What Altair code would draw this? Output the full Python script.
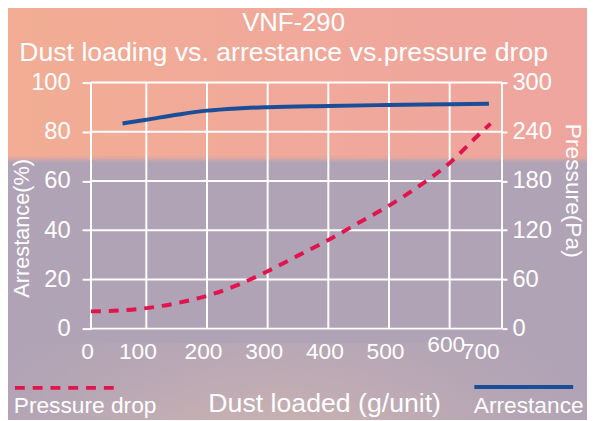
import altair as alt
import pandas as pd

# ---------------- data ----------------
x_pressure = [0, 50, 100, 150, 200, 250, 300, 350, 400, 450, 500, 550, 600, 650, 678]
pressure = [21, 22, 25, 31, 40, 53, 70, 89, 108, 129, 150, 174, 202, 233, 250]
x_arrest = [57, 100, 150, 200, 250, 300, 400, 500, 600, 675]
arrestance = [83.4, 84.9, 86.9, 88.6, 89.5, 90.0, 90.5, 90.9, 91.2, 91.4]
x_ticks = [0, 100, 200, 300, 400, 500, 600, 700]
arrest_ticks = [0, 20, 40, 60, 80, 100]
pressure_ticks = [0, 60, 120, 180, 240, 300]
title_lines = ["VNF-290", "Dust loading vs. arrestance vs.pressure drop"]
legend_labels = ["Pressure drop", "Arrestance"]

# ---------------- style ----------------
W, H = 416, 249
SANS = "Liberation Sans, Arial, sans-serif"
WHITE = "#ffffff"
RED = "#E0154B"
BLUE = "#1B4E98"
PURPLE = "#B1A3B6"

x_scale = alt.Scale(domain=[0, 100, 600, 700], range=[0, 56, 363, 416])
x_axis = alt.Axis(
    values=x_ticks, grid=False, domain=False, ticks=False, zindex=1,
    labelOverlap=False, labelFlush=False, labelBound=False,
    labelColor=WHITE, labelFontSize=23, labelFont=SANS,
    labelPadding={"condition": {"test": "datum.value == 600", "value": 5}, "value": 12},
    labelOffset={"condition": [{"test": "datum.value == 700", "value": -22},
                               {"test": "datum.value == 100", "value": -9}], "value": -4},
    title="Dust loaded (g/unit)", titleFont=SANS, titleFontSize=27, titleFontWeight="normal",
    titleColor=WHITE, titleX=236, titleY=76, titleAlign="center", titleBaseline="middle",
)


def X():
    return alt.X("x:Q", scale=x_scale, axis=x_axis)


left_axis = alt.Axis(
    orient="left", values=arrest_ticks, grid=False, domain=False, zindex=1,
    tickSize=9, tickColor=WHITE, tickWidth=2,
    labelColor=WHITE, labelFont=SANS, labelFontSize=24, labelPadding=12,
    title="Arrestance(%)", titleFont=SANS, titleFontSize=22, titleFontWeight="normal",
    titleColor=WHITE, titleX=-70, titleY=147, titleAngle=270,
    titleAlign="center", titleBaseline="middle",
)
right_axis = alt.Axis(
    orient="right", values=pressure_ticks, grid=False, domain=False, zindex=1,
    tickSize=5, tickColor=WHITE, tickWidth=2,
    labelColor=WHITE, labelFont=SANS, labelFontSize=24, labelPadding=5,
    title="Pressure(Pa)", titleFont=SANS, titleFontSize=23, titleFontWeight="normal",
    titleColor=WHITE, titleX=71, titleY=109, titleAngle=90,
    titleAlign="center", titleBaseline="middle",
)

one = pd.DataFrame({"k": [0]})

# ---------------- background decoration ----------------
salmon = alt.Chart(one).mark_rect(
    fill=alt.LinearGradient(gradient="linear", x1=0, y1=0, x2=1, y2=0, stops=[
        alt.GradientStop(color="#F2AD94", offset=0),
        alt.GradientStop(color="#F0A99A", offset=0.5),
        alt.GradientStop(color="#EEA59F", offset=1)]),
    strokeWidth=0,
).encode(x=alt.value(-92), x2=alt.value(503), y=alt.value(-81), y2=alt.value(75))

blend = alt.Chart(one).mark_rect(
    fill=alt.LinearGradient(gradient="linear", x1=0, y1=0, x2=0, y2=1, stops=[
        alt.GradientStop(color="#EFA99A", offset=0),
        alt.GradientStop(color=PURPLE, offset=1)]),
    strokeWidth=0,
).encode(x=alt.value(-92), x2=alt.value(503), y=alt.value(75), y2=alt.value(81))

glow = alt.Chart(one).mark_rect(
    fill=alt.RadialGradient(gradient="radial", x1=0.47, y1=1.0, r1=0, x2=0.47, y2=1.0, r2=0.75, stops=[
        alt.GradientStop(color="#F0CCA8", offset=0),
        alt.GradientStop(color="rgba(228,194,172,0.75)", offset=0.45),
        alt.GradientStop(color="rgba(177,163,182,0)", offset=1)]),
    strokeWidth=0,
).encode(x=alt.value(-92), x2=alt.value(503), y=alt.value(264), y2=alt.value(345))

# ---------------- grid ----------------
vgrid = alt.Chart(pd.DataFrame({"x": x_ticks})).mark_rule(color=WHITE, strokeWidth=2).encode(
    x=X(), y=alt.value(0), y2=alt.value(H))

hgrid = alt.Chart(pd.DataFrame({"a": arrest_ticks})).mark_rule(color=WHITE, strokeWidth=2).encode(
    y=alt.Y("a:Q", scale=alt.Scale(domain=[0, 100], nice=False), axis=left_axis),
    x=alt.value(0), x2=alt.value(W))

# ---------------- series ----------------
arrest_line = alt.Chart(pd.DataFrame({"x": x_arrest, "a": arrestance})).mark_line(
    color=BLUE, strokeWidth=4, interpolate="monotone", strokeCap="butt").encode(
    x=X(), y=alt.Y("a:Q", scale=alt.Scale(domain=[0, 100], nice=False), axis=left_axis))

pressure_line = alt.Chart(pd.DataFrame({"x": x_pressure, "p": pressure})).mark_line(
    color=RED, strokeWidth=4, strokeDash=[10, 8], interpolate="monotone", strokeCap="butt").encode(
    x=X(), y=alt.Y("p:Q", scale=alt.Scale(domain=[0, 300], nice=False), axis=right_axis))

left_group = alt.layer(hgrid, arrest_line)

# ---------------- titles & legend ----------------
def text(s, x, y, size, font=SANS):
    return alt.Chart(pd.DataFrame({"t": [s]})).mark_text(
        font=font, fontSize=size, color=WHITE, align="center", baseline="middle").encode(
        text="t:N", x=alt.value(x), y=alt.value(y))

t1 = text(title_lines[0], 205, -60, 26)
t2 = text(title_lines[1], 195, -30, 27)
lg1 = text(legend_labels[0], -6, 327, 23)
lg2 = text(legend_labels[1], 443, 327, 23)

leg_red = alt.Chart(one).mark_rule(color=RED, strokeWidth=4, strokeDash=[10, 8]).encode(
    x=alt.value(-77), x2=alt.value(27), y=alt.value(309))
leg_blue = alt.Chart(one).mark_rule(color=BLUE, strokeWidth=4).encode(
    x=alt.value(388), x2=alt.value(488), y=alt.value(308))

chart = alt.layer(
    salmon, blend, glow, vgrid, left_group, pressure_line,
    t1, t2, lg1, lg2, leg_red, leg_blue,
).resolve_scale(y="independent").properties(
    width=W, height=H,
    autosize=alt.AutoSizeParams(type="none"),
    padding={"left": 84, "top": 73, "right": 86, "bottom": 90},
    background=PURPLE,
).configure_view(stroke=None)

chart.save("out.html", embed_options={"renderer": "svg", "actions": False})
